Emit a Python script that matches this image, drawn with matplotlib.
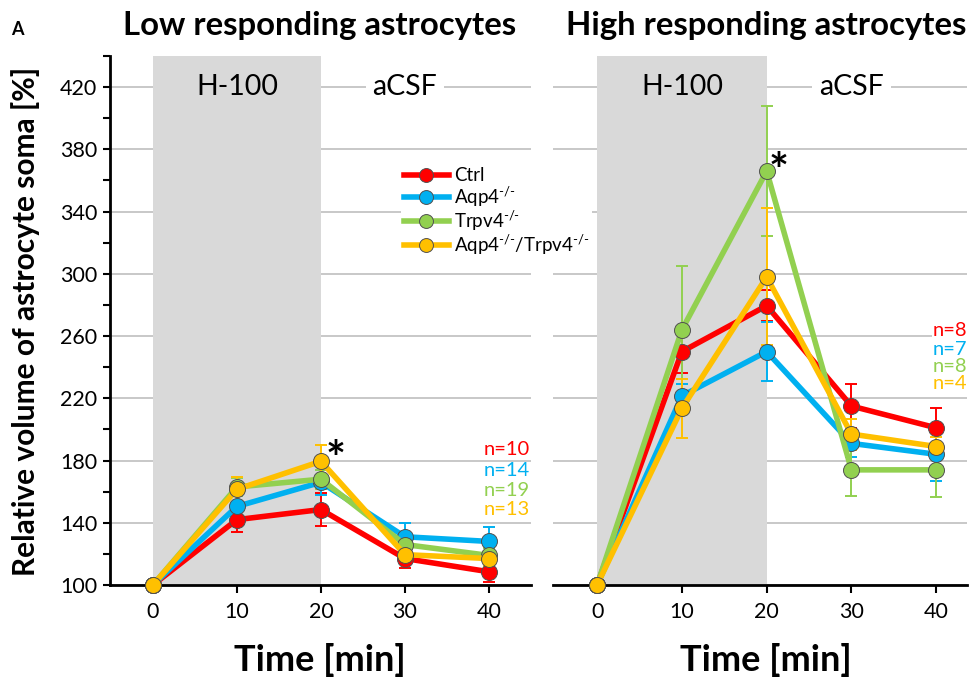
import matplotlib
matplotlib.use('Agg')
import matplotlib.pyplot as plt
from matplotlib.ticker import MultipleLocator, FixedLocator

plt.rcParams['font.family'] = ['Lato', 'DejaVu Sans']
plt.rcParams['mathtext.default'] = 'regular'

# data
time = [0, 10, 20, 30, 40]
ko = '$^{\u2010/\u2010}$'
groups = ['Ctrl', 'Aqp4' + ko, 'Trpv4' + ko, 'Aqp4' + ko + '/Trpv4' + ko]
colors = ['#FF0000', '#00B0F0', '#92D050', '#FFC000']

low_ctrl = [100, 142, 148.5, 117, 108.5]
low_aqp4 = [100, 150.5, 166, 131, 128]
low_trpv4 = [100, 163, 168, 126, 119]
low_double = [100, 161.5, 179.5, 119.5, 117]
low_ctrl_err = [0, 8, 10.5, 6, 6.5]
low_aqp4_err = [0, 7, 8, 9, 9]
low_trpv4_err = [0, 6, 6, 6, 5]
low_double_err = [0, 8, 10.5, 5, 5]
low_n = ['n=10', 'n=14', 'n=19', 'n=13']

high_ctrl = [100, 250, 279.5, 215, 201]
high_aqp4 = [100, 221.5, 250, 191, 184]
high_trpv4 = [100, 264, 366, 174, 174]
high_double = [100, 213.5, 298, 197, 189]
high_ctrl_err = [0, 14, 10, 14, 13]
high_aqp4_err = [0, 8, 19, 9, 17]
high_trpv4_err = [0, 41, 42, 16.5, 17.5]
high_double_err = [0, 19, 44, 10, 6]
high_n = ['n=8', 'n=7', 'n=8', 'n=4']


def draw_panel(ax, vals, errs, nlabels, n_x, n_y, star_xy):
    ax.set_xlim(-5.1, 45)
    ax.set_ylim(100, 440)
    ax.set_axisbelow(True)
    ax.yaxis.set_major_locator(FixedLocator(list(range(100, 421, 40))))
    ax.yaxis.set_minor_locator(FixedLocator(list(range(120, 441, 40))))
    ax.xaxis.set_major_locator(MultipleLocator(10))
    ax.grid(axis='y', which='major', color='#BFBFBF', lw=1.2)
    ax.axvspan(0, 20, color='#D9D9D9', lw=0, zorder=1)
    for v, e, c in zip(vals, errs, colors):
        ax.errorbar(time, v, yerr=e, fmt='none', ecolor=c, elinewidth=1.4,
                    capsize=4, capthick=1.4, zorder=2)
    for v, c in zip(vals, colors):
        ax.plot(time, v, '-o', color=c, lw=4, ms=11.5, mec='#505050', mew=0.7,
                zorder=3, clip_on=False)
    ax.text(10, 420, 'H-100', ha='center', va='center', fontsize=20.5, zorder=4)
    ax.text(30, 420, 'aCSF', ha='center', va='center', fontsize=20.5, zorder=4,
            bbox=dict(fc='white', ec='none', pad=5))
    for lab, c, y in zip(nlabels, colors, n_y):
        ax.text(n_x, y, lab, ha='right', va='center', color=c, fontsize=14.5,
                zorder=4, bbox=dict(fc='white', ec='none', pad=0.5))
    ax.text(star_xy[0], star_xy[1], '*', ha='center', va='center', fontsize=34,
            fontweight='bold', zorder=5)
    for s in ['top', 'right']:
        ax.spines[s].set_visible(False)
    ax.spines['bottom'].set_linewidth(2)
    ax.spines['left'].set_linewidth(2)
    ax.tick_params(axis='x', direction='out', length=6, width=1.5, labelsize=15.5, pad=6)
    ax.tick_params(axis='y', which='both', direction='out', length=5, width=1.5,
                   labelsize=15.5, pad=4)


fig = plt.figure(figsize=(9.69, 6.77), dpi=100)
ax1 = fig.add_axes([0.1135, 0.1359, 0.4345, 0.7814])
ax2 = fig.add_axes([0.5707, 0.1359, 0.427, 0.7814])
ax2.patch.set_alpha(0)

draw_panel(ax1, [low_ctrl, low_aqp4, low_trpv4, low_double],
           [low_ctrl_err, low_aqp4_err, low_trpv4_err, low_double_err],
           low_n, 44.9, [187.4, 173.3, 161, 148.8], (21.7, 180))
draw_panel(ax2, [high_ctrl, high_aqp4, high_trpv4, high_double],
           [high_ctrl_err, high_aqp4_err, high_trpv4_err, high_double_err],
           high_n, 43.6, [263.5, 251.5, 240.5, 229.5], (21.4, 365))
ax2.set_xlim(-5.2, 43.6)
ax2.spines['left'].set_visible(False)
ax2.tick_params(axis='y', which='both', left=False, labelleft=False)

handles = [plt.Line2D([], [], color=c, lw=4, marker='o', ms=10, mec='#505050', mew=0.7)
           for c in colors]
leg = fig.legend(handles, groups, loc='upper left', bbox_to_anchor=(0.414, 0.757),
                 fontsize=13.5, handlelength=2.4, handletextpad=0.25,
                 labelspacing=0.0, borderpad=0.15, borderaxespad=0, frameon=True,
                 facecolor='white', edgecolor='none', framealpha=1)
leg.set_zorder(6)

fig.text(0.330, 0.962, 'Low responding astrocytes', ha='center', va='center',
         fontsize=23.7, fontweight='bold')
fig.text(0.791, 0.962, 'High responding astrocytes', ha='center', va='center',
         fontsize=23.7, fontweight='bold')
fig.text(0.018, 0.957, 'A', ha='center', va='center', fontsize=13, fontweight='bold')
fig.text(0.026, 0.525, 'Relative volume of astrocyte soma [%]', ha='center',
         va='center', rotation=90, fontsize=21.5, fontweight='bold')
fig.text(0.330, 0.025, 'Time [min]', ha='center', va='center', fontsize=26,
         fontweight='bold')
fig.text(0.790, 0.025, 'Time [min]', ha='center', va='center', fontsize=26,
         fontweight='bold')

fig.savefig('out.png', dpi=100)
